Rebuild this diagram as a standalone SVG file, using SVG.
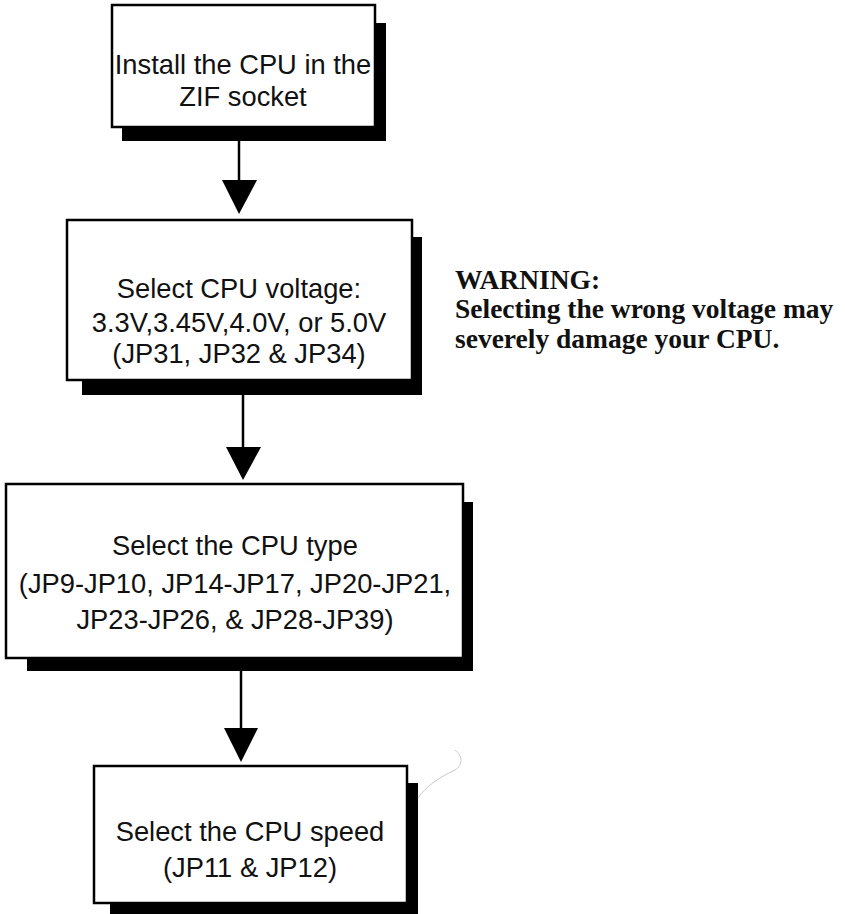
<svg xmlns="http://www.w3.org/2000/svg" width="845" height="914" viewBox="0 0 845 914">
<style>
.shadow{fill:#000}
.box{fill:#fff;stroke:#000;stroke-width:2.5}
.t{font-family:"Liberation Sans",Arial,sans-serif;font-size:27.3px;fill:#111;text-anchor:middle}
.w{font-family:"Liberation Serif","Times New Roman",serif;font-size:27.5px;font-weight:bold;fill:#111}
.conn{stroke:#000;stroke-width:2.5;fill:none}
.head{fill:#000}
</style>
<rect width="845" height="914" fill="#fff"/>
<g id="node-install">
<rect class="shadow" x="122" y="23" width="264" height="118"/>
<rect class="box" x="112" y="5" width="263" height="122"/>
<text class="t" x="243" y="74">Install the CPU in the</text>
<text class="t" x="243" y="106">ZIF socket</text>
</g>
<g id="node-voltage">
<rect class="shadow" x="82" y="237" width="340" height="158"/>
<rect class="box" x="67" y="220" width="345" height="160"/>
<text class="t" x="239" y="298">Select CPU voltage:</text>
<text class="t" x="239" y="332">3.3V,3.45V,4.0V, or 5.0V</text>
<text class="t" x="239" y="363">(JP31, JP32 &amp; JP34)</text>
</g>
<g id="node-type">
<rect class="shadow" x="27" y="502" width="446" height="169"/>
<rect class="box" x="6" y="484" width="457" height="174"/>
<text class="t" x="235" y="555">Select the CPU type</text>
<text class="t" x="235" y="593">(JP9-JP10, JP14-JP17, JP20-JP21,</text>
<text class="t" x="235" y="629">JP23-JP26, &amp; JP28-JP39)</text>
</g>
<g id="node-speed">
<rect class="shadow" x="110" y="783" width="308" height="131"/>
<rect class="box" x="94" y="766" width="313" height="137"/>
<text class="t" x="250" y="841">Select the CPU speed</text>
<text class="t" x="250" y="877">(JP11 &amp; JP12)</text>
</g>
<g id="warning">
<text class="w" x="455" y="289">WARNING:</text>
<text class="w" x="455" y="318">Selecting the wrong voltage may</text>
<text class="w" x="455" y="348">severely damage your CPU.</text>
</g>
<g id="connectors">
<line class="conn" x1="239" y1="141" x2="239" y2="182"/>
<polygon class="head" points="222,180 257,180 239,214"/>
<line class="conn" x1="243" y1="395" x2="243" y2="449"/>
<polygon class="head" points="226,447 261,447 243,480"/>
<line class="conn" x1="241" y1="671" x2="241" y2="730"/>
<polygon class="head" points="224,728 258,728 241,762"/>
</g>
<path d="M418,798 C426,786 440,777 455,770 C463,765 463,756 455,750" fill="none" stroke="#c8c8c8" stroke-width="1"/>
</svg>
